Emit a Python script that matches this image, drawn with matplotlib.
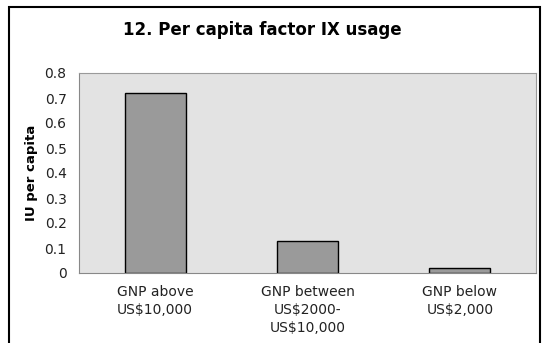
import matplotlib.pyplot as plt
from matplotlib.patches import Rectangle

categories = ['GNP above\nUS$10,000', 'GNP between\nUS$2000-\nUS$10,000', 'GNP below\nUS$2,000']
values = [0.72, 0.13, 0.02]

fig = plt.figure(figsize=(5.49, 3.43), dpi=100)
fig.patch.set_facecolor('white')

# outer chart frame
fig.patches.append(Rectangle((9 / 549, -0.05), 531 / 549, 1 - 7 / 343 + 0.05,
                             transform=fig.transFigure, fill=False,
                             edgecolor='black', linewidth=1.5))

ax = fig.add_axes([79 / 549, 1 - 273 / 343, (536 - 79) / 549, (273 - 73) / 343])
ax.set_facecolor('#e3e3e3')

x = range(len(categories))
ax.bar(x, values, width=0.4, color='#9a9a9a', edgecolor='black', linewidth=1)

ax.set_xlim(-0.5, 2.5)
ax.set_ylim(0, 0.8)
ax.set_yticks([0, 0.1, 0.2, 0.3, 0.4, 0.5, 0.6, 0.7, 0.8])
ax.set_yticklabels(['0', '0.1', '0.2', '0.3', '0.4', '0.5', '0.6', '0.7', '0.8'])
ax.set_xticks(list(x))
ax.set_xticklabels(categories, va='top', linespacing=1.35)
ax.tick_params(axis='both', labelsize=10, colors='#222222', length=0, pad=9)
ax.tick_params(axis='x', pad=9)

for s in ['top', 'right']:
    ax.spines[s].set_color('#9a9a9a')
    ax.spines[s].set_linewidth(0.8)
for s in ['left', 'bottom']:
    ax.spines[s].set_color('#888888')
    ax.spines[s].set_linewidth(0.8)

ax.set_ylabel('IU per capita', fontsize=9.5, fontweight='bold', labelpad=5)
fig.text(262 / 549, 1 - 30 / 343, '12. Per capita factor IX usage',
         ha='center', va='center', fontsize=12, fontweight='bold')

fig.savefig('out.png', dpi=100)
